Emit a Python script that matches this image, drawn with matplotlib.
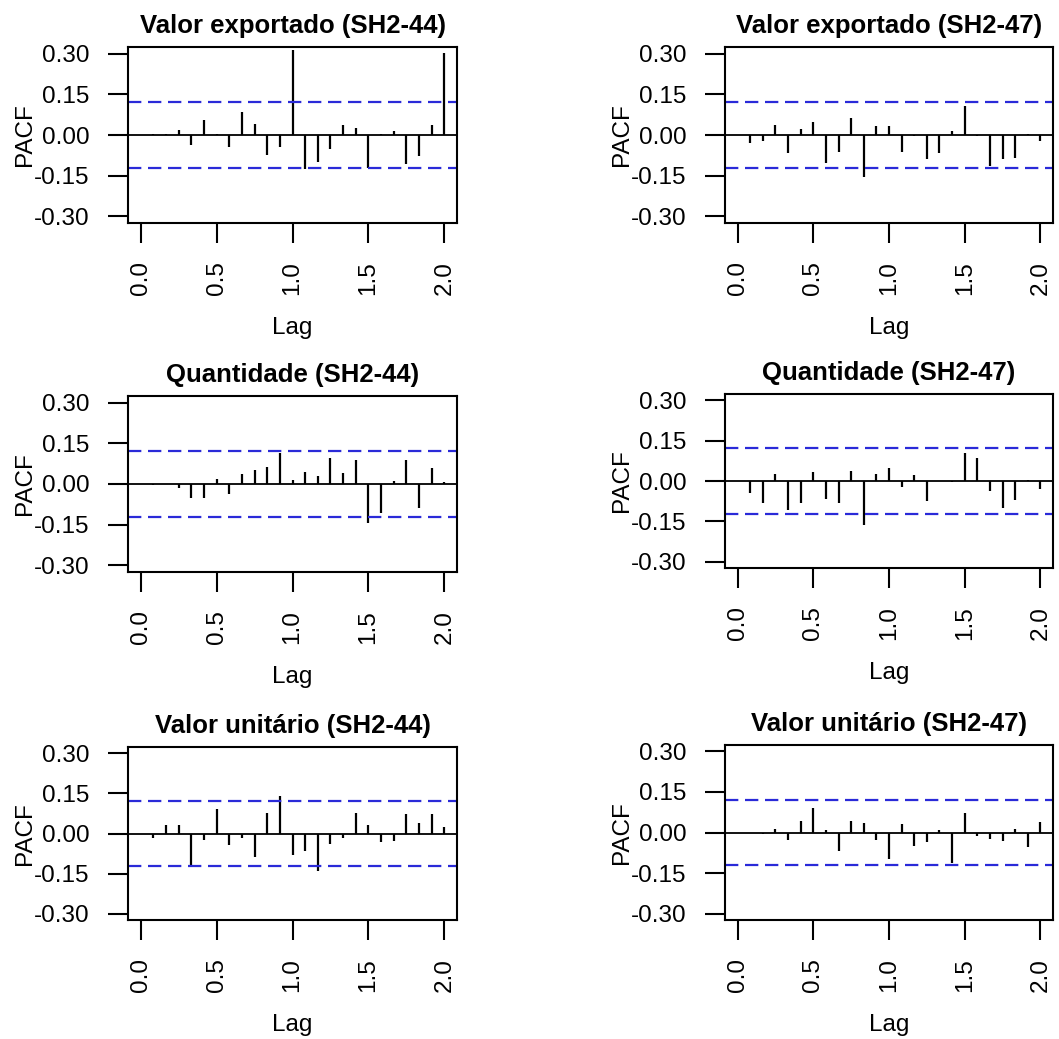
import numpy as np
import matplotlib
matplotlib.use("Agg")
import matplotlib.pyplot as plt

plt.rcParams['font.family'] = ['Liberation Sans', 'DejaVu Sans']

lags = np.arange(1, 25) / 12.0
conf = 0.122

titles = [
    "Valor exportado (SH2-44)", "Valor exportado (SH2-47)",
    "Quantidade (SH2-44)", "Quantidade (SH2-47)",
    "Valor unitário (SH2-44)", "Valor unitário (SH2-47)",
]

pacf_valor_44 = [0.005, 0.005, 0.017, -0.036, 0.057, 0.003, -0.045, 0.086, 0.041, -0.074,
                 -0.045, 0.313, -0.127, -0.101, -0.053, 0.037, 0.025, -0.122, 0.003, 0.015,
                 -0.105, -0.079, 0.036, 0.301]
pacf_valor_47 = [-0.031, -0.022, 0.037, -0.068, 0.021, 0.047, -0.102, -0.064, 0.064, -0.154,
                 0.034, 0.034, -0.061, -0.004, -0.090, -0.068, 0.015, 0.105, -0.002, -0.114,
                 -0.090, -0.085, 0.002, -0.022]
pacf_quant_44 = [-0.002, 0.001, -0.016, -0.050, -0.050, 0.017, -0.036, 0.037, 0.050, 0.063,
                 0.114, 0.014, 0.045, 0.031, 0.096, 0.039, 0.089, -0.144, -0.105, 0.012,
                 0.089, -0.087, 0.058, 0.007]
pacf_quant_47 = [-0.044, -0.083, 0.025, -0.108, -0.083, 0.033, -0.066, -0.083, 0.039, -0.163,
                 0.025, 0.048, -0.024, 0.023, -0.075, 0.001, -0.003, 0.103, 0.084, -0.039,
                 -0.100, -0.070, 0.002, -0.028]
pacf_unit_44 = [-0.016, 0.031, 0.031, -0.117, -0.024, 0.093, -0.044, -0.016, -0.089, 0.078,
                0.141, -0.082, -0.067, -0.141, -0.038, -0.016, 0.078, 0.030, -0.033, -0.029,
                0.074, 0.038, 0.072, 0.026]
pacf_unit_47 = [-0.003, -0.005, 0.013, -0.028, 0.041, 0.092, 0.008, -0.069, 0.043, 0.034,
                -0.028, -0.097, 0.033, -0.049, -0.034, 0.010, -0.112, 0.074, -0.012, -0.025,
                -0.031, 0.012, -0.055, 0.038]

series = [pacf_valor_44, pacf_valor_47, pacf_quant_44, pacf_quant_47, pacf_unit_44, pacf_unit_47]

yticks = [-0.30, -0.15, 0.00, 0.15, 0.30]
ytick_labels = ["-0.30", "-0.15", "0.00", "0.15", "0.30"]
xticks = [0.0, 0.5, 1.0, 1.5, 2.0]
xtick_labels = ["0.0", "0.5", "1.0", "1.5", "2.0"]

W, H = 1059, 1039
fig = plt.figure(figsize=(W / 100, H / 100), dpi=100)

# axes boxes in pixel coordinates: (x0, y_top, x1, y_bottom)
boxes = [
    (128, 47, 457, 223), (725, 47, 1053, 223),
    (128, 396, 457, 572), (725, 394, 1053, 568),
    (128, 747, 457, 920), (725, 745, 1053, 920),
]

blue = '#2a2ad8'
for title, vals, (x0, yt, x1, yb) in zip(titles, series, boxes):
    ax = fig.add_axes([x0 / W, 1 - yb / H, (x1 - x0) / W, (yb - yt) / H])
    ax.vlines(lags, 0, vals, color='black', lw=1.6)
    ax.axhline(0, color='black', lw=1.3)
    ax.axhline(conf, color=blue, lw=1.6, ls=(0, (6, 3)))
    ax.axhline(-conf, color=blue, lw=1.6, ls=(0, (6, 3)))
    ax.set_xlim(-1 / 12, 2 + 1 / 12)
    ax.set_ylim(-0.324, 0.324)
    ax.set_yticks(yticks)
    ax.set_yticklabels(ytick_labels)
    ax.set_xticks(xticks)
    ax.set_xticklabels(xtick_labels, rotation=90)
    ax.tick_params(axis='both', direction='out', length=14.5, width=1.5,
                   labelsize=17.5, pad=13, colors='black')
    for s in ax.spines.values():
        s.set_linewidth(1.5)
    ax.set_title(title, fontsize=18.5, fontweight='bold', pad=10)
    ax.set_ylabel("PACF", fontsize=17.5, labelpad=-1)
    ax.set_xlabel("Lag", fontsize=17.5, labelpad=16)

fig.savefig("out.png", dpi=100)
